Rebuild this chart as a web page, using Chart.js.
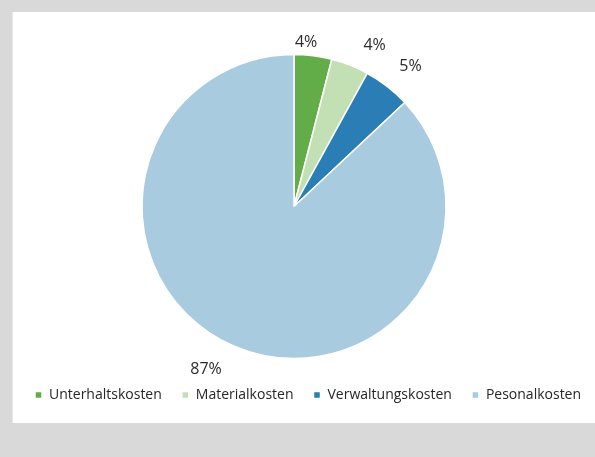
<!DOCTYPE html>
<html>
<head>
<meta charset="utf-8">
<script src="https://cdn.jsdelivr.net/npm/chart.js@4/dist/chart.umd.min.js"></script>
<style>
  html, body { margin:0; padding:0; }
  body { width:595px; height:457px; background:#d9d9d9; position:relative; overflow:hidden; }
  #panel { position:absolute; left:12px; top:12px; width:583px; height:411px; background:#ffffff; border-left:1px solid #e8e8e8; box-sizing:border-box; }
  #wrap { position:absolute; left:12px; top:12px; width:620px; height:411px; }
</style>
</head>
<body>
<div id="panel"></div>
<div id="wrap"><canvas id="c"></canvas></div>
<script>
const categories = ["Unterhaltskosten", "Materialkosten", "Verwaltungskosten", "Pesonalkosten"];
const shares = [4, 4, 5, 87];
const valueLabels = ["4%", "4%", "5%", "87%"];
const sliceColors = ["#62ad47", "#c3e0b5", "#2a7db5", "#a9cbe0"];

const FONT = "'Open Sans', 'DejaVu Sans', sans-serif";

const labelPlugin = {
  id: 'outLabels',
  afterDatasetsDraw(chart, args, opts) {
    const ctx = chart.ctx;
    const meta = chart.getDatasetMeta(0);
    ctx.save();
    ctx.font = "16px " + FONT;
    ctx.fillStyle = "#2b2b2b";
    ctx.textAlign = "center";
    ctx.textBaseline = "middle";
    meta.data.forEach((arc, i) => {
      const p = arc.getProps(['x','y','startAngle','endAngle','outerRadius'], true);
      const adj = opts.adjust[i] || {da:0, dr:20};
      const mid = (p.startAngle + p.endAngle) / 2 + adj.da * Math.PI / 180;
      const r = p.outerRadius + adj.dr;
      ctx.fillText(valueLabels[i], p.x + Math.cos(mid) * r, p.y + Math.sin(mid) * r);
    });
    ctx.restore();
  }
};

new Chart(document.getElementById('c'), {
  type: 'pie',
  data: {
    labels: categories,
    datasets: [{
      data: shares,
      backgroundColor: sliceColors,
      borderColor: "#ffffff",
      borderWidth: 1.5,
      radius: 152
    }]
  },
  options: {
    responsive: true,
    maintainAspectRatio: false,
    animation: false,
    layout: { padding: { top: 33, bottom: 11, left: 3, right: 0 } },
    plugins: {
      title: {
        display: true,
        text: ' ',
        position: 'right',
        font: { size: 12 },
        padding: { top: 30, bottom: 14.6 }
      },
      legend: {
        position: 'bottom',
        align: 'start',
        labels: {
          font: { family: FONT, size: 14 },
          color: "#262626",
          boxWidth: 7,
          boxHeight: 7,
          padding: 20
        }
      },
      tooltip: { enabled: false },
      outLabels: {
        adjust: [ {da:-3, dr:13}, {da:5, dr:28}, {da:2, dr:30}, {da:5, dr:33} ]
      }
    }
  },
  plugins: [labelPlugin]
});
</script>
</body>
</html>
